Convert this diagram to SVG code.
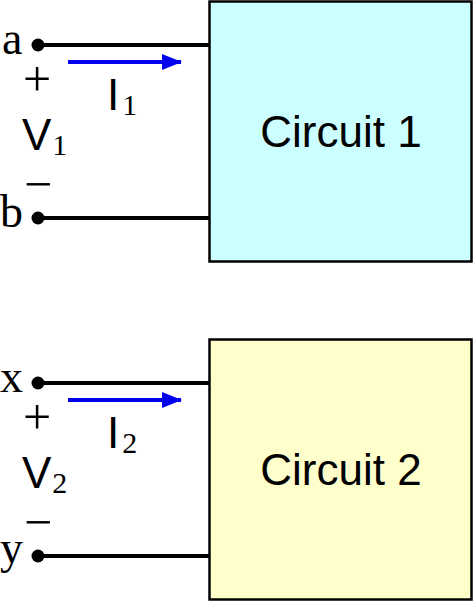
<svg xmlns="http://www.w3.org/2000/svg" width="474" height="602" viewBox="0 0 474 602">
<style>
.wire{stroke:#000;stroke-width:4;fill:none}
.cur{stroke:#0000ee;stroke-width:4;fill:none}
.box{stroke:#000;stroke-width:2.5}
.dot{fill:#000}
.serif{font-family:"Liberation Serif","DejaVu Serif",serif;fill:#000}
.sans{font-family:"Liberation Sans","DejaVu Sans",sans-serif;fill:#000}
.lbl{font-size:46px}
.pm{font-size:50px;text-anchor:middle}
.big{font-size:44px}
.sub{font-size:30px}
</style>
<defs>
<marker id="ah" markerWidth="20" markerHeight="16" refX="19" refY="8" orient="auto" markerUnits="userSpaceOnUse">
<path d="M0,0 L20,8 L0,16 Z" fill="#0000ee"/>
</marker>
</defs>
<rect width="474" height="602" fill="#fff"/>
<g id="circuit1">
<rect class="box" x="209.5" y="1.5" width="262" height="260" fill="#ccffff"/>
<text class="sans" x="341" y="147" font-size="44" text-anchor="middle">Circuit 1</text>
</g>
<g id="circuit2">
<rect class="box" x="209.5" y="339.5" width="262" height="260" fill="#ffffcc"/>
<text class="sans" x="341" y="485" font-size="44" text-anchor="middle">Circuit 2</text>
</g>
<g id="port1">
<circle class="dot" cx="38" cy="45" r="6.5"/>
<circle class="dot" cx="38" cy="218" r="6.5"/>
<text class="serif lbl" x="2" y="54">a</text>
<text class="serif lbl" x="0" y="227">b</text>
<text class="serif pm" x="37" y="96">+</text>
<text class="serif pm" x="38" y="201">−</text>
<text class="sans big" x="22" y="150">V<tspan class="serif sub" dx="1" dy="5">1</tspan></text>
<text class="sans big" x="107" y="110">I<tspan class="serif sub" dx="3" dy="5">1</tspan></text>
</g>
<g id="port2">
<circle class="dot" cx="38" cy="383" r="6.5"/>
<circle class="dot" cx="38" cy="556" r="6.5"/>
<text class="serif lbl" x="0" y="392">x</text>
<text class="serif lbl" x="0" y="563">y</text>
<text class="serif pm" x="37" y="434">+</text>
<text class="serif pm" x="38" y="539">−</text>
<text class="sans big" x="22" y="488">V<tspan class="serif sub" dx="1" dy="5">2</tspan></text>
<text class="sans big" x="107" y="448">I<tspan class="serif sub" dx="3" dy="5">2</tspan></text>
</g>
<g id="connectors">
<line class="wire" x1="38" y1="45" x2="209" y2="45"/>
<line class="wire" x1="38" y1="218" x2="209" y2="218"/>
<line class="wire" x1="38" y1="383" x2="209" y2="383"/>
<line class="wire" x1="38" y1="556" x2="209" y2="556"/>
<line class="cur" x1="68" y1="62" x2="181" y2="62" marker-end="url(#ah)"/>
<line class="cur" x1="68" y1="400" x2="181" y2="400" marker-end="url(#ah)"/>
</g>
</svg>
